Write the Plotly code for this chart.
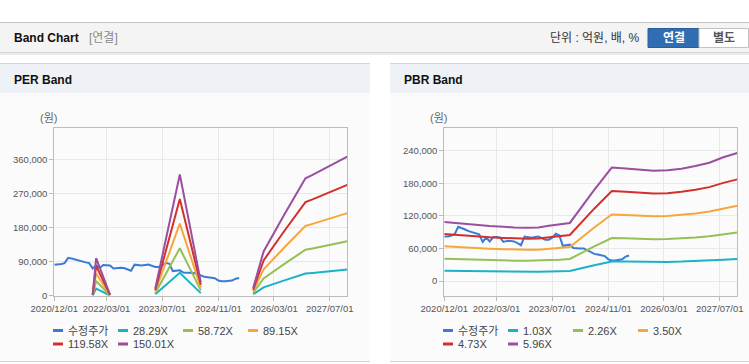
import plotly.graph_objects as go
import pandas as pd

W, H = 749, 364

# ---------------- data ----------------
price_dates = pd.date_range("2020-12-01", periods=54, freq="MS").strftime("%Y-%m-%d").tolist()
price = [82000, 82000, 84000, 86000, 100000, 98000, 95000, 92000, 90000, 88000,
         86000, 72000, 80000, 73000, 81000, 81000, 80000, 72000, 74000, 74000,
         73000, 70000, 66000, 82000, 81000, 80000, 81000, 82000, 79000, 76000,
         76000, 80000, 87000, 84000, 65000, 66000, 67000, 61000, 60000, 60000,
         60000, 57000, 53000, 50000, 49000, 48000, 46000, 40000, 38000, 38000,
         39000, 40000, 45000, 47000]

per_dates = ["2021-11-01", "2021-12-01", "2022-04-01", "2022-10-01",
             "2023-05-01", "2023-12-01", "2024-06-01", "2025-01-01",
             "2025-09-01", "2025-12-01", "2026-06-01", "2026-12-01", "2027-02-01",
             "2027-04-01", "2027-06-01", "2027-08-01", "2027-10-01", "2027-12-01"]
per_names = ["수정주가", "28.29X", "58.72X", "89.15X", "119.58X", "150.01X"]
per_28 = [600, 18700, 600, None, 3600, 60400, 6800, None,
          3800, 22100, 40500, 58500, 60200, 61900, 63700, 65600, 67300, 69200]
per_58 = [1200, 38700, 1200, None, 7400, 125200, 14100, None,
          7800, 45800, 84200, 121300, 124900, 128400, 132300, 136200, 139700, 143600]
per_89 = [1800, 58800, 1800, None, 11300, 190200, 21400, None,
          11900, 69500, 127800, 184200, 189600, 194900, 200900, 206800, 212200, 218100]
per_119 = [2400, 78900, 2400, None, 15100, 255100, 28700, None,
           15900, 93300, 171400, 247100, 254300, 261400, 269400, 277400, 284600, 292500]
per_150 = [3000, 99000, 3000, None, 19000, 320000, 36000, None,
           20000, 117000, 215000, 310000, 319000, 328000, 338000, 348000, 357000, 367000]

pbr_dates = ["2020-12-01", "2021-03-01", "2021-07-01", "2022-01-01", "2022-05-01",
             "2022-08-01", "2022-12-01", "2023-03-01", "2023-06-01", "2023-09-01",
             "2023-12-01", "2024-07-01", "2024-12-01", "2025-04-01", "2025-08-01",
             "2025-12-01", "2026-04-01", "2026-08-01", "2026-12-01", "2027-04-01",
             "2027-08-01", "2027-12-01"]
pbr_names = ["수정주가", "1.03X", "2.26X", "3.50X", "4.73X", "5.96X"]
pbr_103 = [18800, 18500, 18100, 17500, 17300, 17000, 16900, 17000, 17600, 18000, 18500,
           29000, 36100, 35900, 35400, 35100, 35300, 35800, 36600, 37700, 39400, 40800]
pbr_226 = [41300, 40600, 39800, 38500, 37900, 37400, 37200, 37400, 38700, 39400, 40600,
           63700, 79300, 78700, 77700, 77000, 77400, 78500, 80400, 82700, 86500, 89500]
pbr_350 = [64000, 62800, 61700, 59600, 58700, 57800, 57500, 57800, 59900, 61100, 62800,
           98600, 122700, 121800, 120400, 119200, 119800, 121600, 124500, 128000, 133900, 138600]
pbr_473 = [86500, 84900, 83300, 80600, 79400, 78200, 77800, 78200, 80900, 82500, 84900,
           133300, 165900, 164700, 162700, 161100, 161900, 164300, 168200, 173000, 180900, 187300]
pbr_596 = [109000, 107000, 105000, 101500, 100000, 98500, 98000, 98500, 102000, 104000, 107000,
           168000, 209000, 207500, 205000, 203000, 204000, 207000, 212000, 218000, 228000, 236000]

x_ticks = ["2020-12-01", "2022-03-01", "2023-07-01", "2024-11-01", "2026-03-01", "2027-07-01"]
per_yticks = [0, 90000, 180000, 270000, 360000]
pbr_yticks = [0, 60000, 120000, 180000, 240000]

colors = ["#3a7bd5", "#1bb2c8", "#94c055", "#f6a63c", "#d3302c", "#9a4f9f"]

FONT = "Liberation Sans, Noto Sans CJK KR, sans-serif"


def px_x(p):
    return p / W


def px_y(p):
    return 1 - p / H


fig = go.Figure()

per_series = [per_28, per_58, per_89, per_119, per_150]
pbr_series = [pbr_103, pbr_226, pbr_350, pbr_473, pbr_596]

fig.add_trace(go.Scatter(x=price_dates, y=price, mode="lines", name=per_names[0],
                         line=dict(color=colors[0], width=2), xaxis="x", yaxis="y"))
for i, s in enumerate(per_series):
    fig.add_trace(go.Scatter(x=per_dates, y=s, mode="lines", name=per_names[i + 1],
                             connectgaps=False,
                             line=dict(color=colors[i + 1], width=2), xaxis="x", yaxis="y"))

fig.add_trace(go.Scatter(x=price_dates, y=price, mode="lines", name=pbr_names[0],
                         line=dict(color=colors[0], width=2), xaxis="x2", yaxis="y2"))
for i, s in enumerate(pbr_series):
    fig.add_trace(go.Scatter(x=pbr_dates, y=s, mode="lines", name=pbr_names[i + 1],
                             line=dict(color=colors[i + 1], width=2), xaxis="x2", yaxis="y2"))

ydom = [px_y(295.7), px_y(128.3)]
common_x = dict(type="date", range=["2020-12-01", "2027-12-01"], tickvals=x_ticks,
                tickformat="%Y/%m/%d", ticks="outside", ticklen=4, tickcolor="#bbbbbb",
                showgrid=True, gridcolor="#e8e8e8", gridwidth=1, showline=True,
                linecolor="#bdbdbd", linewidth=1, mirror=True, zeroline=False,
                automargin=False,
                tickfont=dict(size=9.5, color="#555555", family=FONT), fixedrange=True)
common_y = dict(ticks="outside", ticklen=4, tickcolor="#bbbbbb", showgrid=True,
                gridcolor="#e8e8e8", gridwidth=1, showline=True, linecolor="#bdbdbd",
                linewidth=1, mirror=True, zeroline=False, tickformat=",d",
                automargin=False,
                tickfont=dict(size=9.5, color="#555555", family=FONT), fixedrange=True)

fig.update_layout(
    width=W, height=H,
    autosize=False,
    margin=dict(l=0, r=0, t=0, b=0, pad=0, autoexpand=False),
    paper_bgcolor="white", plot_bgcolor="white",
    showlegend=False,
    font=dict(family=FONT, size=11, color="#333333"),
    xaxis=dict(domain=[px_x(54.3), px_x(347.3)], anchor="y", **common_x),
    yaxis=dict(domain=ydom, anchor="x", range=[0, 442000], tickvals=per_yticks, **common_y),
    xaxis2=dict(domain=[px_x(444.3), px_x(737.3)], anchor="y2", **common_x),
    yaxis2=dict(domain=ydom, anchor="x2", range=[-27000, 281400], tickvals=pbr_yticks, **common_y),
)

shapes = []


def rect(x0, y0, x1, y1, fill, line=None, layer="below"):
    d = dict(type="rect", xref="paper", yref="paper",
             x0=px_x(x0), x1=px_x(x1), y0=px_y(y1), y1=px_y(y0),
             fillcolor=fill, layer=layer,
             line=dict(width=0 if line is None else 1, color=line or fill))
    shapes.append(d)


# header bar
rect(0, 22, 749, 23, "#c4c4c4")
rect(0, 23, 749, 52, "#f4f4f4")
rect(0, 52, 749, 53, "#d6d6d6")
rect(0, 53, 749, 55, "#ececec")
# buttons
rect(648, 28.5, 699, 47.5, "#2f6eb2", line="#2a5f9c", layer="above")
rect(699, 28.5, 748.5, 47.5, "#ffffff", line="#c2c2c2", layer="above")

# panels
for (a, b) in [(0, 370), (390, 749)]:
    rect(a, 63, b, 64, "#d4d4d4")
    rect(a, 64, b, 93, "#eef2f7")
    rect(a, 93, b, 361, "#fbfbfb")
    rect(a, 361, b, 362, "#d2d2d2")

annotations = []


def text(x, y, s, size=12, color="#222222", bold=False, anchor="left"):
    annotations.append(dict(xref="paper", yref="paper", x=px_x(x), y=px_y(y),
                            text=f"<b>{s}</b>" if bold else s, showarrow=False,
                            xanchor=anchor, yanchor="middle",
                            font=dict(size=size, color=color, family=FONT)))


text(12, 38.5, "Band Chart", size=12, color="#111111", bold=True)
text(87, 38.5, "[연결]", size=12, color="#8a8a8a")
text(642, 38.5, "단위 : 억원, 배, %", size=12, color="#333333", anchor="right")
text(674, 38.5, "연결", size=12, color="#ffffff", bold=True, anchor="center")
text(724, 38.5, "별도", size=12, color="#555555", bold=True, anchor="center")
text(12, 80, "PER Band", size=12, color="#111111", bold=True)
text(402, 80, "PBR Band", size=12, color="#111111", bold=True)
text(49, 118, "(원)", size=11, color="#666666", anchor="center")
text(438, 118, "(원)", size=11, color="#666666", anchor="center")

# manual legends
for x0, names in [(53, per_names), (443, pbr_names)]:
    for i, nm in enumerate(names):
        row, col = divmod(i, 4)
        lx = x0 + col * 65
        ly = 330.5 + row * 13.5
        shapes.append(dict(type="line", xref="paper", yref="paper",
                           x0=px_x(lx), x1=px_x(lx + 10), y0=px_y(ly), y1=px_y(ly),
                           line=dict(color=colors[i], width=3), layer="above"))
        text(lx + 13, ly, nm, size=11, color="#444444")

fig.update_layout(shapes=shapes, annotations=annotations)

fig.write_html("out.html", config={"displayModeBar": False},
               post_script="document.body.style.margin='0';document.body.style.overflow='hidden';")
